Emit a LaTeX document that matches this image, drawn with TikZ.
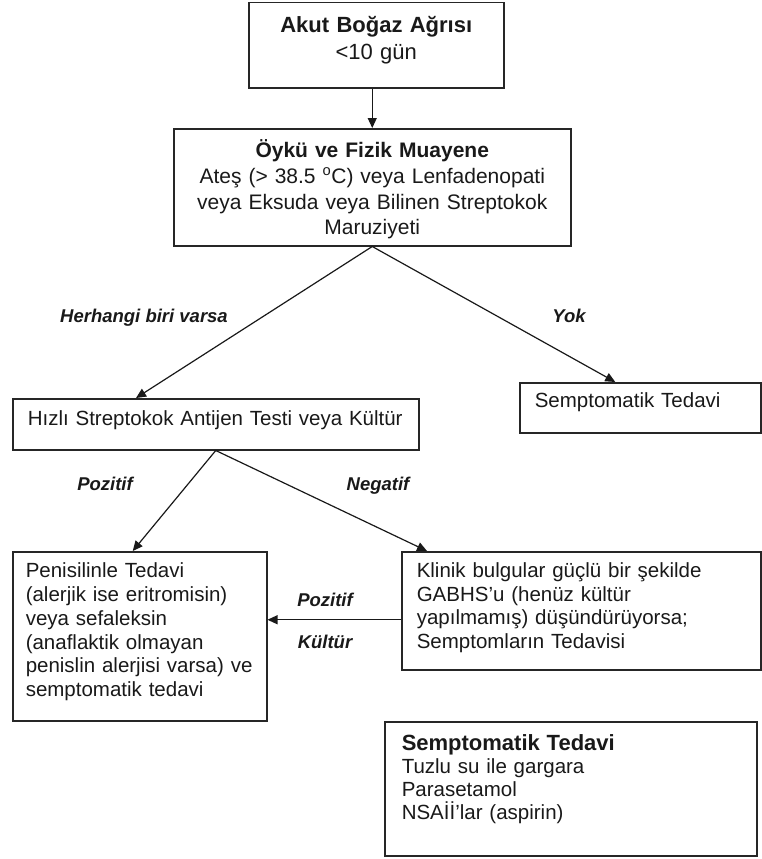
\documentclass[tikz,border=0pt]{standalone}
\usepackage{fontspec}
\setmainfont{Liberation Sans}
\usetikzlibrary{arrows.meta,positioning}

\begin{document}
\begin{tikzpicture}[
    x=1pt, y=-1pt,
    box/.style={rectangle, draw=black!85, line width=1.5pt, anchor=north west, inner ysep=0pt, text=black!90},
    centerbox/.style={box, align=center, inner xsep=5pt, font=\fontsize{21}{25.7}\selectfont},
    leftbox/.style={box, align=left, inner xsep=15pt, font=\fontsize{20.5}{23.8}\selectfont},
    answer/.style={anchor=base, text=black!90, font=\fontsize{18.5}{22}\selectfont\bfseries\itshape},
    arrow/.style={-{Triangle[length=10pt,width=9pt]}, line width=1.2pt, black!90}
]
\useasboundingbox (0,0) rectangle (762,859);

% Start
\node[centerbox, text width=245pt, font=\fontsize{22}{27}\selectfont, text height=30pt, text depth=55pt] (akut) at (248,2) {\textbf{Akut Boğaz Ağrısı}\\<10 gün};

% History
\node[centerbox, text width=387pt, text height=29pt, text depth=88pt] (oyku) at (173,128) {\textbf{Öykü ve Fizik Muayene}\\Ateş (> 38.5 \textsuperscript{o}C) veya Lenfadenopati\\veya Eksuda veya Bilinen Streptokok\\Maruziyeti};

% Tests
\node[leftbox, text width=376pt, text height=27pt, text depth=24pt] (hizli) at (12,398) {Hızlı Streptokok Antijen Testi veya Kültür};
\node[leftbox, text width=211pt, text height=25pt, text depth=25pt] (semp) at (519,382) {Semptomatik Tedavi};

% Treatment
\node[leftbox, inner xsep=13pt, text width=228pt, text height=26pt, text depth=143pt] (penis) at (12,551) {Penisilinle Tedavi\\(alerjik ise eritromisin)\\veya sefaleksin\\(anaflaktik olmayan\\penislin alerjisi varsa) ve\\semptomatik tedavi};
\node[leftbox, text width=329pt, text height=26pt, text depth=92pt, font=\fontsize{20.5}{23.5}\selectfont] (klinik) at (401,551) {Klinik bulgular güçlü bir şekilde\\GABHS’u (henüz kültür\\yapılmamış) düşündürüyorsa;\\Semptomların Tedavisi};
\node[leftbox, inner xsep=17pt, text width=338pt, text height=29pt, text depth=105pt, font=\fontsize{20.5}{23}\selectfont] (tedavi) at (384,721) {{\fontsize{22}{23}\selectfont\bfseries Semptomatik Tedavi}\\Tuzlu su ile gargara\\Parasetamol\\NSAİİ’lar (aspirin)};

% Arrows
\coordinate (kultur) at ([yshift=-9pt]klinik.west);
\draw[arrow] (akut.south -| oyku.north) -- (oyku.north);
\draw[arrow] (oyku.south) -- ([xshift=124pt]hizli.north west);
\draw[arrow] (oyku.south) -- ([xshift=-25pt]semp.north);
\draw[arrow] (hizli.south) -- ([xshift=-7pt]penis.north);
\draw[arrow] (hizli.south) -- ([xshift=26pt]klinik.north west);
\draw[arrow] (kultur) -- (kultur -| penis.east);

% Labels
\node[answer] (herhangi) at (144,322) {Herhangi biri varsa};
\node[answer] (yok) at (569,322) {Yok};
\node[answer] (pozitif) at (105,490) {Pozitif};
\node[answer] (negatif) at (378,490) {Negatif};
\node[answer] (kulturpoz) at (325,606) {Pozitif};
\node[answer] (kulturlbl) at (325,648) {Kültür};
\end{tikzpicture}
\end{document}
